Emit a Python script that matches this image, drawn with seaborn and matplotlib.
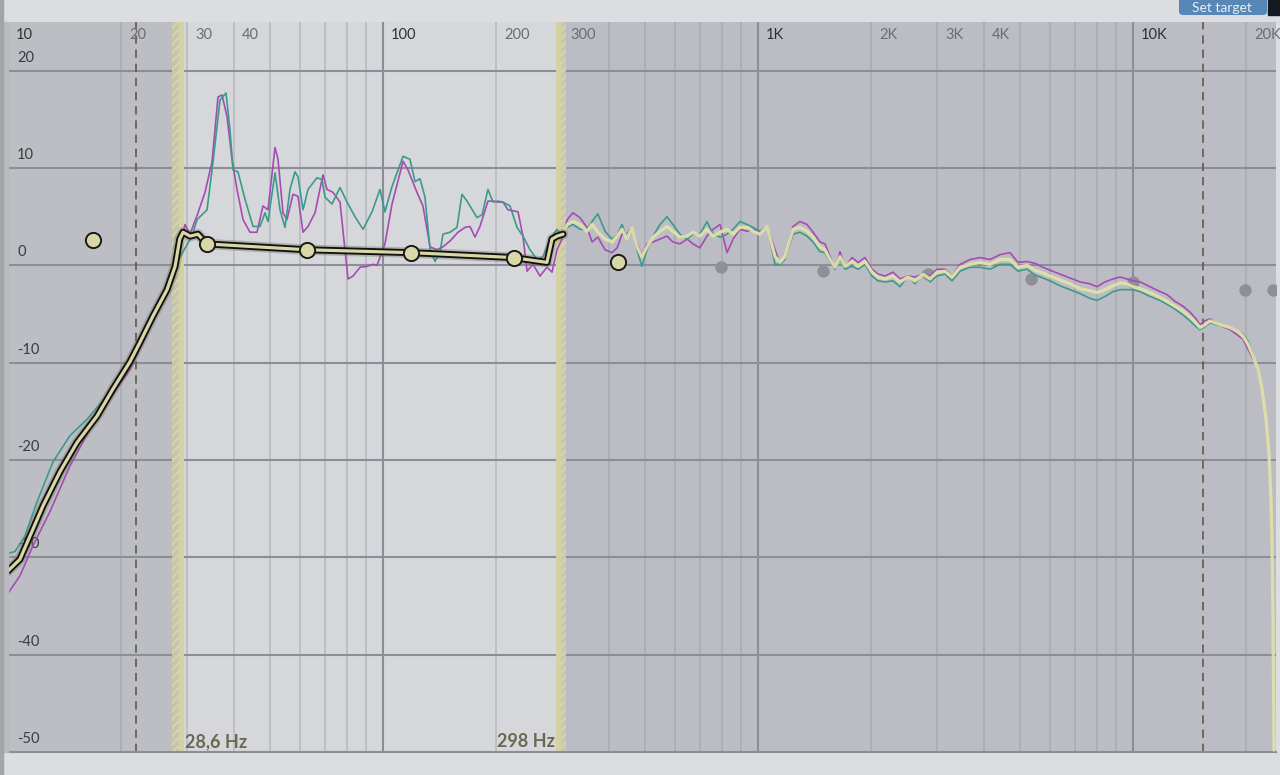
import matplotlib
matplotlib.use('Agg')
import matplotlib.pyplot as plt
import seaborn as sns
from matplotlib.patches import Rectangle, FancyBboxPatch

# ---------------------------------------------------------
# values  (frequency in Hz, level in dB)
# ---------------------------------------------------------
lo_cut_hz = 28.6
hi_cut_hz = 298
marker_lines_hz = [21.9, 15400]

target_hz = [10.0, 10.12, 10.76, 11.45, 12.4, 13.76, 15.28, 17.27, 19.05, 21.15,
             22.49, 24.36, 26.55, 27.9, 28.7, 29.3, 30.6, 32.1, 33.9, 62.7,
             119.5, 222.2, 273.7, 282.2, 291.1, 302]
target_db = [-31.4, -31.2, -30.2, -27.8, -24.7, -21.2, -18.2, -15.5, -12.7, -9.9,
             -7.9, -5.2, -2.5, -0.1, 2.7, 3.4, 3.0, 3.2, 2.2, 1.6,
             1.3, 0.8, 0.3, 2.7, 3.0, 3.2]

# measurement 1 (magenta), below the crossover
mag_hz = [10.0, 10.76, 11.66, 12.94, 14.63, 16.55, 18.71, 21.15, 23.92, 27.04,
          28.22, 29.65, 30.57, 32.12, 33.52, 34.99, 36.31, 37.21, 38.37, 39.57,
          40.80, 42.34, 44.19, 46.13, 47.86, 49.35, 51.52, 52.48, 54.12, 55.46,
          57.54, 59.33, 61.20, 63.10, 65.87, 69.18, 70.90, 73.56, 76.80, 80.66,
          83.18, 86.85, 90.66, 94.05, 96.4, 101.2, 105.7, 109.0, 113.1, 116.6,
          123.2, 127.8, 133.5, 139.3, 144.5, 150.9, 158.5, 165.5, 170.6, 175.9,
          181.4, 190.5, 196.5, 202.6, 208.9, 215.4, 229.1, 236.2, 242.1, 251.2,
          262.2, 273.7, 282.3]
mag_db = [-33.7, -31.9, -28.8, -25.3, -20.6, -16.8, -13.7, -10.7, -6.3, -1.1,
          0.6, 4.2, 3.2, 5.4, 7.5, 10.6, 17.3, 17.5, 15.3, 10.9,
          7.8, 4.7, 3.4, 3.4, 6.1, 5.7, 12.1, 10.9, 5.4, 4.7,
          7.3, 7.1, 3.4, 4.0, 5.4, 9.3, 7.8, 7.5, 6.5, -1.4,
          -1.1, -0.2, -0.1, 0.1, 0.0, 2.2, 6.3, 8.3, 10.7, 9.8,
          7.5, 6.1, 1.9, 1.6, 1.9, 2.5, 3.4, 3.9, 4.0, 2.9,
          4.0, 6.6, 6.6, 6.5, 6.5, 5.7, 5.5, 3.0, -0.6, 0.1,
          -1.1, -0.2, -0.7]

# measurement 2 (teal), below the crossover
teal_hz = [10.0, 10.44, 11.10, 11.95, 13.18, 14.63, 16.25, 18.37, 20.77, 23.49,
           26.55, 28.22, 30.95, 31.92, 33.94, 35.21, 36.76, 38.14, 39.08, 39.81,
           41.05, 42.85, 45.02, 46.99, 48.45, 49.35, 51.52, 53.13, 54.79, 56.49,
           58.25, 59.33, 61.20, 63.10, 66.68, 68.76, 70.04, 73.11, 76.80, 80.17,
           84.20, 88.46, 93.48, 98.17, 101.2, 105.7, 113.1, 118.0, 121.7, 125.5,
           129.4, 133.5, 137.6, 141.9, 144.5, 150.9, 157.5, 162.4, 167.5, 178.1,
           183.7, 190.5, 196.5, 202.6, 208.9, 218.1, 227.7, 236.2, 246.6, 257.5,
           267.1, 278.8]
teal_db = [-29.6, -29.4, -27.8, -24.3, -20.2, -17.5, -15.8, -13.4, -10.7, -6.6,
           -2.2, 0.3, 3.0, 4.7, 5.7, 10.6, 17.0, 17.7, 13.9, 9.8,
           9.6, 6.8, 4.0, 4.0, 5.4, 4.5, 9.5, 5.7, 3.9, 7.8,
           9.6, 9.1, 5.7, 7.8, 9.0, 8.8, 7.0, 6.3, 8.0, 6.5,
           5.0, 3.7, 5.5, 7.8, 5.5, 8.1, 11.2, 10.9, 8.6, 8.9,
           7.0, 1.6, 0.4, 1.3, 3.2, 3.4, 3.9, 7.3, 6.6, 4.9,
           5.2, 7.8, 6.5, 6.6, 6.5, 6.1, 3.9, 3.0, 1.6, 0.6,
           0.9, 2.7]

# above the crossover: one frequency grid shared by the three traces
hf_hz = [291, 300, 310, 321, 335, 350, 361, 374, 391, 408,
         421, 434, 447, 461, 476, 490, 506, 525, 548, 572,
         593, 619, 647, 671, 700, 731, 759, 792, 827, 858,
         895, 935, 970, 1012, 1057, 1110, 1145, 1180, 1240, 1294,
         1351, 1402, 1463, 1509, 1556, 1605, 1655, 1706, 1781, 1848,
         1929, 2014, 2089, 2181, 2291, 2392, 2512, 2623, 2754, 2875,
         3001, 3153, 3291, 3458, 3675, 3908, 4156, 4419, 4699, 4935,
         5216, 5480, 5754, 6008, 6389, 6792, 7222, 7679, 8017, 8420,
         8844, 9234, 9638, 10000, 10440, 11100, 11800, 12320, 12940, 13590,
         14190, 14720, 15090, 15560, 16050, 17060, 18140, 19050, 19650, 20260,
         20890, 21550, 22080, 22630, 23050, 23330, 23480, 23620, 23770]
hf_yellow_db = [3.0, 3.0, 4.2, 4.5, 4.2, 3.5, 4.2, 3.4, 2.7, 2.4,
                3.0, 3.7, 2.7, 3.9, 1.9, 0.9, 1.9, 2.9, 3.5, 4.0,
                3.5, 2.9, 3.0, 3.4, 3.0, 3.7, 3.0, 3.4, 3.7, 3.2,
                3.9, 3.9, 3.5, 3.2, 4.0, 0.9, 0.3, 0.9, 3.7, 3.9,
                3.5, 2.9, 1.9, 1.6, 0.6, -0.2, 0.9, -0.1, 0.4, -0.1,
                0.4, -0.7, -1.2, -1.4, -1.1, -1.7, -1.2, -1.6, -0.9, -1.4,
                -0.7, -0.6, -1.2, -0.2, 0.1, 0.3, 0.1, 0.6, 0.6, -0.2,
                0.0, -0.5, -0.8, -1.1, -1.5, -1.9, -2.4, -2.6, -2.8, -2.5,
                -2.1, -1.8, -1.9, -2.2, -2.4, -2.8, -3.3, -3.7, -4.2, -4.7,
                -5.3, -5.9, -6.4, -6.1, -5.7, -6.1, -6.4, -6.8, -7.3, -8.1,
                -9.3, -10.7, -12.7, -15.8, -19.4, -24.0, -28.6, -36.3, -49.8]
hf_teal_db = [3.7, 3.0, 3.9, 4.2, 3.7, 3.7, 4.5, 5.3, 3.5, 2.7,
              3.1, 4.2, 2.7, 3.9, 1.6, -0.1, 1.6, 3.0, 4.2, 5.0,
              4.2, 3.2, 2.7, 3.2, 3.2, 4.5, 3.2, 2.9, 3.2, 3.7,
              4.5, 4.2, 3.9, 3.5, 4.0, 0.1, 0.1, 0.6, 3.2, 3.4,
              3.0, 2.4, 1.4, 1.3, 0.4, -0.4, 0.6, -0.4, -0.1, -0.4,
              0.1, -1.1, -1.6, -1.7, -1.6, -2.2, -1.1, -1.9, -0.7, -1.7,
              -1.1, -0.9, -1.6, -0.6, -0.2, -0.2, -0.4, 0.1, 0.1, -0.6,
              -0.4, -1.0, -1.3, -1.6, -2.1, -2.5, -2.9, -3.4, -3.6, -3.2,
              -2.7, -2.5, -2.5, -2.5, -2.7, -3.2, -3.6, -4.0, -4.5, -5.1,
              -5.7, -6.3, -6.6, -6.3, -5.9, -6.2, -6.4, -6.8, -7.1, -7.8,
              -9.1, -10.9, -12.7]
hf_mag_db = [1.6, 2.7, 4.7, 5.4, 4.9, 3.9, 2.4, 2.9, 1.6, 1.3,
             1.8, 3.2, 3.2, 4.0, 2.2, 1.1, 2.2, 2.4, 2.7, 3.0,
             2.4, 2.2, 2.7, 2.2, 1.8, 3.0, 3.7, 4.2, 1.3, 2.7,
             3.7, 3.5, 3.7, 3.4, 4.0, 1.6, 0.1, 0.8, 4.0, 4.5,
             4.2, 3.4, 2.4, 2.2, 0.9, -0.4, 1.4, -0.2, 0.8, 0.3,
             0.8, -0.4, -0.9, -1.1, -0.7, -1.4, -1.1, -1.2, -0.9, -1.1,
             -0.4, -0.4, -1.1, 0.1, 0.6, 0.8, 0.6, 1.1, 1.3, 0.3,
             0.4, 0.2, -0.2, -0.5, -0.9, -1.3, -1.7, -1.9, -2.2, -1.7,
             -1.4, -1.2, -1.4, -1.6, -1.7, -2.2, -2.7, -3.0, -3.7, -4.2,
             -4.8, -5.5, -6.1, -5.7, -5.5, -6.2, -6.6, -7.2, -7.6, -8.6,
             -9.6]

# filter handles
eq_hz = [16.85, 33.9, 62.7, 118.8, 223.5, 423]
eq_db = [2.6, 2.2, 1.6, 1.3, 0.8, 0.3]
off_hz = [796.6, 1491, 2841, 5346, 10000, 19890, 23620]
off_db = [-0.2, -0.6, -0.9, -1.4, -1.7, -2.5, -2.5]

xtick_hz = [10, 20, 30, 40, 100, 200, 300, 1000, 2000, 3000, 4000, 10000, 20000]
xtick_txt = ['10', '20', '30', '40', '100', '200', '300', '1K', '2K', '3K', '4K', '10K', '20K']
ytick_db = [20, 10, 0, -10, -20, -30, -40, -50]

minor_hz = [20, 30, 40, 50, 60, 70, 80, 90, 200, 300, 400, 500, 600, 700, 800, 900,
            2000, 3000, 4000, 5000, 6000, 7000, 8000, 9000, 20000]
decade_hz = [100, 1000, 10000]

# ---------------------------------------------------------
# figure
# ---------------------------------------------------------
sns.set_theme(style='white')
plt.rcParams['font.family'] = ['Lato', 'DejaVu Sans']
plt.rcParams['hatch.linewidth'] = 1.3

W, H = 1280, 775
fig = plt.figure(figsize=(W / 100, H / 100), dpi=100, facecolor='#dcdde0')
ax = fig.add_axes([8 / W, 23 / H, 1268 / W, 730 / H])
ax.set_xscale('log')
x_max = 24060
ax.set_xlim(10, x_max)
ax.set_ylim(-50, 25)
ax.set_facecolor('#d6d7db')
for s in ['top', 'left', 'right']:
    ax.spines[s].set_visible(False)
ax.spines['bottom'].set_color('#8c8e97')
ax.spines['bottom'].set_linewidth(1.5)
ax.set_xticks([])
ax.set_yticks([])
ax.minorticks_off()

# shaded out-of-band zones + crossover bands
ax.axvspan(10, lo_cut_hz * 0.96, color='#bdbec3', lw=0, zorder=0)
ax.axvspan(hi_cut_hz * 1.032, x_max, color='#bcbdc4', lw=0, zorder=0)
ax.axvspan(lo_cut_hz * 0.96, lo_cut_hz, facecolor='#c4c4b2', edgecolor='#d8d7a2',
           hatch='////', lw=0, zorder=1.5)
ax.axvspan(lo_cut_hz, lo_cut_hz * 1.03, color='#d3d2a0', lw=0, zorder=1.5)
ax.axvspan(hi_cut_hz * 0.97, hi_cut_hz, color='#d3d2a0', lw=0, zorder=1.5)
ax.axvspan(hi_cut_hz, hi_cut_hz * 1.032, facecolor='#c8c8b4', edgecolor='#d8d7a2',
           hatch='////', lw=0, zorder=1.5)

# grid
for v in minor_hz:
    ax.axvline(v, color='#8c8e97', alpha=0.42, lw=1.1, zorder=1)
for v in decade_hz:
    ax.axvline(v, color='#8c8e97', lw=1.5, zorder=1)
for v in ytick_db[:-1]:
    ax.axhline(v, color='#8c8e97', lw=1.5, zorder=1)
for v in marker_lines_hz:
    ax.axvline(v, color='#5d5b4a', lw=1.2, ls=(0, (5, 3.5)), zorder=2)

# axis labels drawn inside the plot
for hz, txt in zip(xtick_hz, xtick_txt):
    dark = txt in ('10', '100', '1K', '10K')
    ax.annotate(txt, xy=(hz, 1), xycoords=('data', 'axes fraction'),
                xytext=(8, -13), textcoords='offset pixels', ha='left', va='center',
                fontsize=10.5, color='#2f3034' if dark else '#6c6d72', zorder=2,
                annotation_clip=False)
for v in ytick_db:
    ax.annotate(str(v), xy=(0, v), xycoords=('axes fraction', 'data'),
                xytext=(9, 13), textcoords='offset pixels', ha='left', va='center',
                fontsize=10.5, color='#3a3b3f', zorder=2)

# filter handles that are switched off
sns.scatterplot(x=off_hz, y=off_db, ax=ax, s=80, color='#8e9099', linewidth=0,
                zorder=2.5, legend=False)

# measurements
sns.lineplot(x=mag_hz + hf_hz[:len(hf_mag_db)], y=mag_db + hf_mag_db, ax=ax,
             estimator=None, color='#a54cb3', lw=1.2, zorder=3, legend=False)
sns.lineplot(x=teal_hz + hf_hz[:len(hf_teal_db)], y=teal_db + hf_teal_db, ax=ax,
             estimator=None, color='#3c9a8b', lw=1.2, zorder=3.1, legend=False)
sns.lineplot(x=hf_hz, y=hf_yellow_db, ax=ax, estimator=None, color='#e2e1a9',
             lw=2.3, alpha=0.92, zorder=3.5, legend=False)

# target curve: black outline with a pale core
sns.lineplot(x=target_hz, y=target_db, ax=ax, estimator=None, color='#6b6b5a',
             lw=7.5, alpha=0.35, zorder=3.8, legend=False)
sns.lineplot(x=target_hz, y=target_db, ax=ax, estimator=None, color='#111111',
             lw=5.0, zorder=4, legend=False)
sns.lineplot(x=target_hz, y=target_db, ax=ax, estimator=None, color='#d9d7a6',
             lw=2.3, zorder=4.1, legend=False)

sns.scatterplot(x=eq_hz, y=eq_db, ax=ax, s=120, color='#d9d7a8', edgecolor='#1a1a1a',
                linewidth=1.4, zorder=5, legend=False)

# crossover readouts
ax.annotate(f'{lo_cut_hz:.1f} Hz'.replace('.', ','), xy=(lo_cut_hz * 1.03, -50),
            xytext=(1, 2), textcoords='offset pixels', ha='left', va='bottom',
            fontsize=13, fontweight='bold', color='#6b6851', zorder=6)
ax.annotate(f'{hi_cut_hz} Hz', xy=(hi_cut_hz * 0.97, -50),
            xytext=(-1, 2), textcoords='offset pixels', ha='right', va='bottom',
            fontsize=13, fontweight='bold', color='#6b6851', zorder=6)

# window chrome around the plot
fig.patches.append(Rectangle((0, 23 / H), 8 / W, 730 / H, transform=fig.transFigure,
                             color='#b9babe', zorder=0))
fig.patches.append(Rectangle((0, 0), 3 / W, 1, transform=fig.transFigure,
                             color='#a3a4a8', zorder=0))
fig.patches.append(FancyBboxPatch((1179 / W, 760 / H), 88 / W, 22 / H,
                                  boxstyle='round,pad=0,rounding_size=0.004',
                                  transform=fig.transFigure, facecolor='#5787b6',
                                  edgecolor='none', zorder=1))
fig.patches.append(Rectangle((1268 / W, 760 / H), 12 / W, 15 / H, transform=fig.transFigure,
                             color='#151a20', zorder=1))
fig.text(1222 / W, (H - 7.5) / H, 'Set target', ha='center', va='center',
         fontsize=10, color='#e9eef4', zorder=2)

fig.savefig('out.png', dpi=100, facecolor=fig.get_facecolor())
